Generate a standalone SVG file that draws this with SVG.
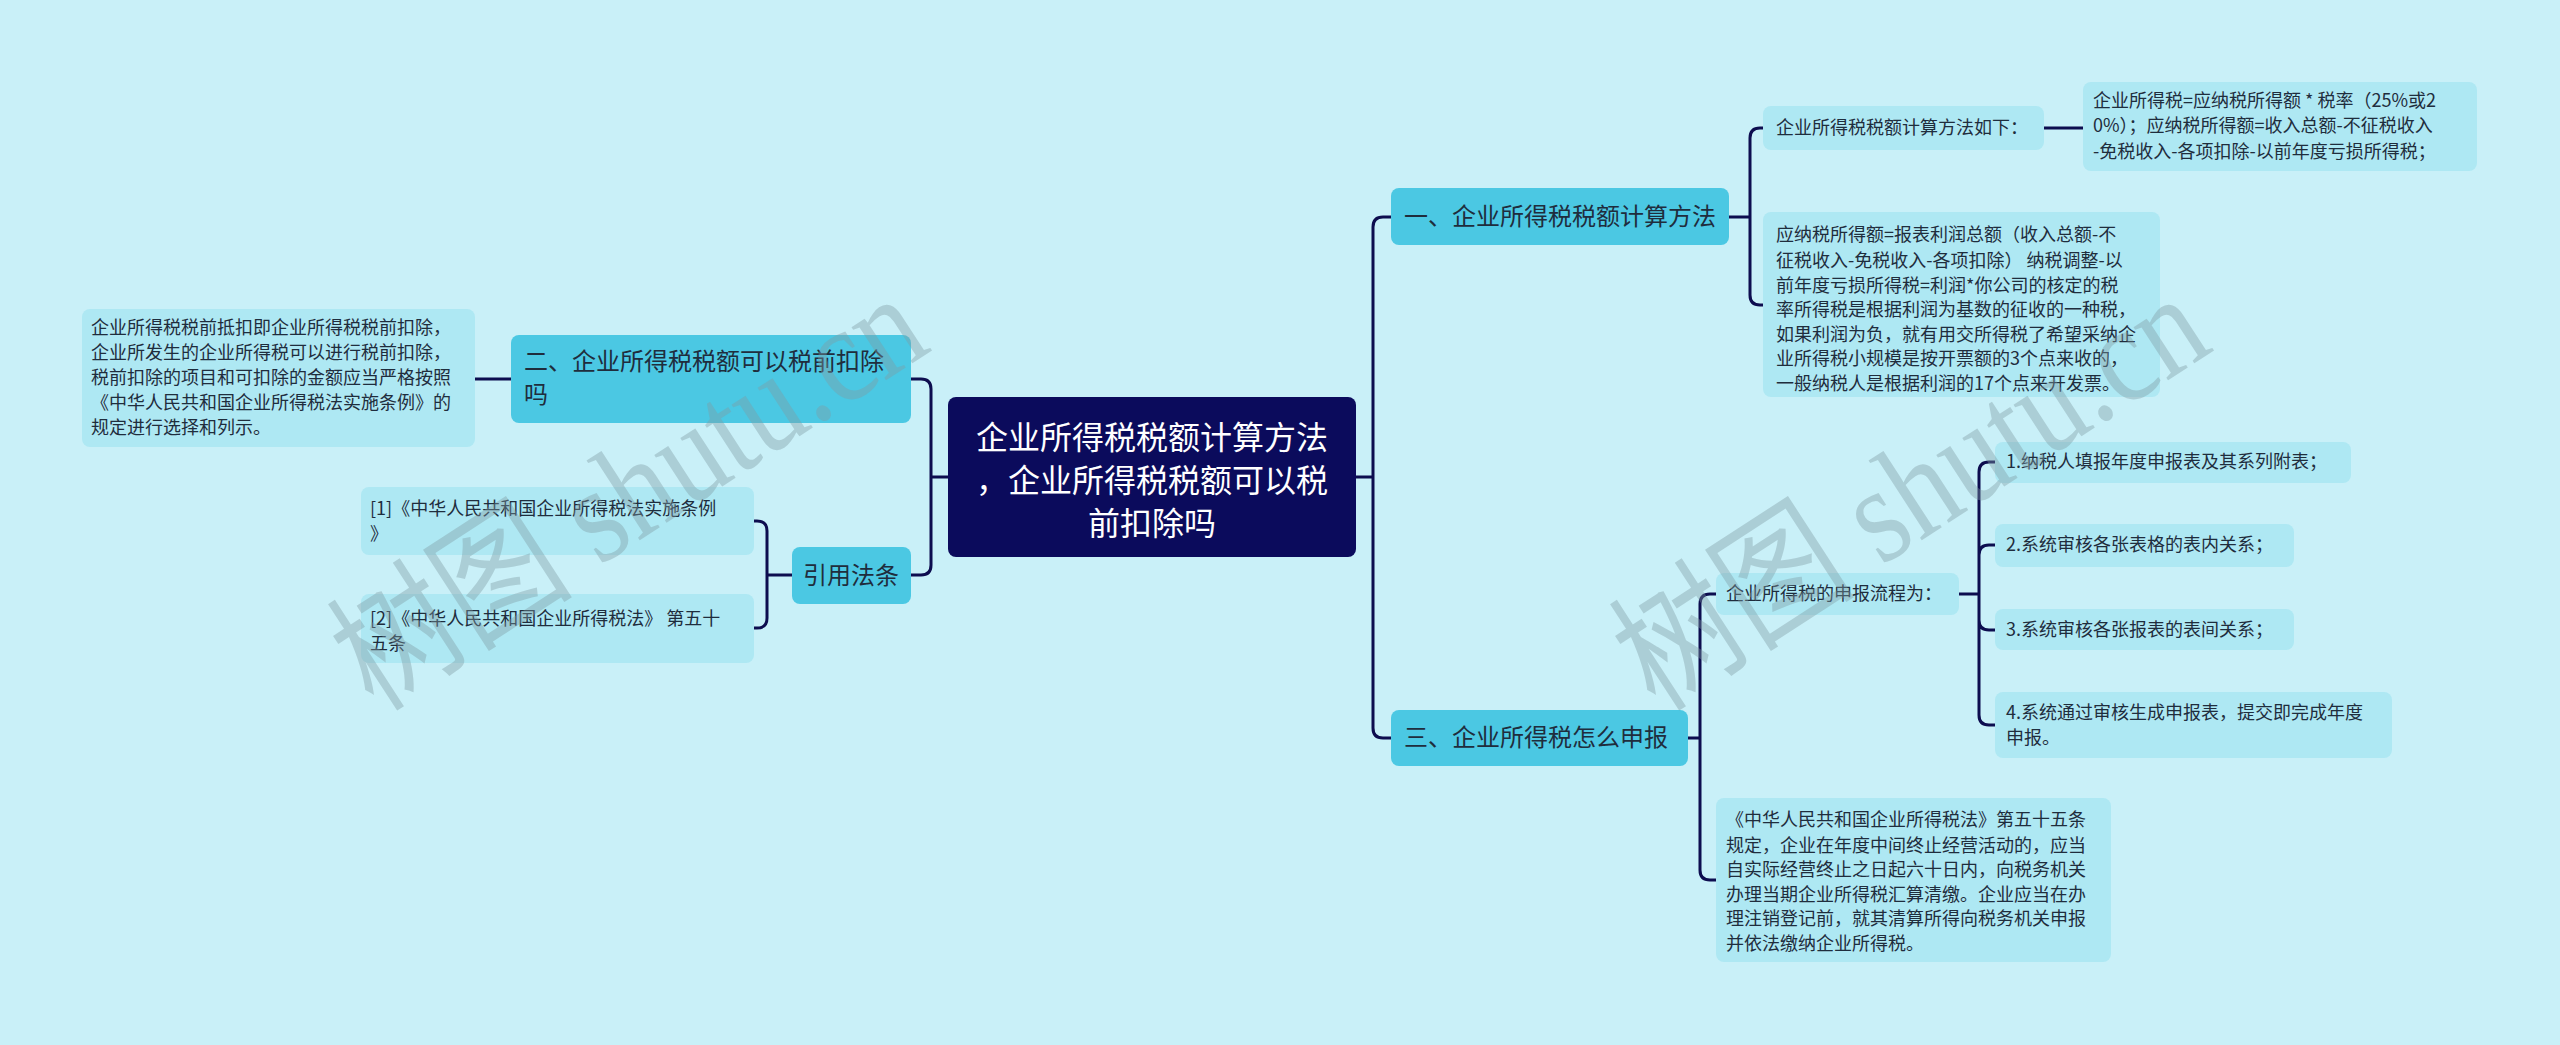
<svg xmlns="http://www.w3.org/2000/svg" width="2560" height="1045" viewBox="0 0 2560 1045">
<style>
.bg{fill:#c9f0f8}
.root{fill:#0b0b5c}
.l1{fill:#4bc8e3}
.leaf{fill:#aee8f3}
.t{font-family:"Noto Sans CJK SC","Noto Sans",sans-serif;fill:#1f2d3d}
.rt{font-family:"Noto Sans CJK SC","Noto Sans",sans-serif;fill:#ffffff;font-size:32px}
.s18{font-size:18px}
.s24{font-size:24px}
.con{fill:none;stroke:#0d0d4f;stroke-width:3;stroke-linecap:round}
.wm{font-family:"Liberation Serif","Noto Sans CJK SC",serif;font-size:138px;fill:#7f9aa3;fill-opacity:0.4}
</style>
<rect class="bg" x="0" y="0" width="2560" height="1045"/>
<g id="connectors">
<path class="con" d="M1355,477 H1373 M1373,477 V227 Q1373,217 1383,217 H1391 M1373,477 V728 Q1373,738 1383,738 H1391"/>
<path class="con" d="M949,477 H931 M931,477 V389 Q931,379 921,379 H911 M931,477 V565 Q931,575 921,575 H911"/>
<path class="con" d="M511,379 H475"/>
<path class="con" d="M792,575 H767 M767,575 V531 Q767,521 757,521 H754 M767,575 V618 Q767,628 757,628 H754"/>
<path class="con" d="M1729,217 H1750 M1750,217 V138 Q1750,128 1760,128 H1763 M1750,217 V295 Q1750,305 1760,305 H1763"/>
<path class="con" d="M2044,128 H2083"/>
<path class="con" d="M1688,738 H1700 M1700,738 V604 Q1700,594 1710,594 H1716 M1700,738 V870 Q1700,880 1710,880 H1716"/>
<path class="con" d="M1959,594 H1979 M1979,594 V472 Q1979,462 1989,462 H1995 M1979,594 V555 Q1979,545 1989,545 H1995 M1979,594 V620 Q1979,630 1989,630 H1995 M1979,594 V715 Q1979,725 1989,725 H1995"/>
</g>
<g id="root">
<rect class="root" x="948" y="397" width="408" height="160" rx="8"/>
<text class="rt" text-anchor="middle" x="1152" y="449">企业所得税税额计算方法</text>
<text class="rt" text-anchor="middle" x="1152" y="492">，企业所得税税额可以税</text>
<text class="rt" text-anchor="middle" x="1152" y="535">前扣除吗</text>
</g>
<g id="n2">
<rect class="l1" x="511" y="335" width="400" height="88" rx="8"/>
<text class="t s24" x="524" y="370">二、企业所得税税额可以税前扣除</text>
<text class="t s24" x="524" y="403">吗</text>
</g>
<g id="n2a">
<rect class="leaf" x="82" y="309" width="393" height="138" rx="8"/>
<text class="t s18" x="91" y="334">企业所得税税前抵扣即企业所得税税前扣除，</text>
<text class="t s18" x="91" y="359">企业所发生的企业所得税可以进行税前扣除，</text>
<text class="t s18" x="91" y="384">税前扣除的项目和可扣除的金额应当严格按照</text>
<text class="t s18" x="91" y="409">《中华人民共和国企业所得税法实施条例》的</text>
<text class="t s18" x="91" y="434">规定进行选择和列示。</text>
</g>
<g id="nref">
<rect class="l1" x="792" y="547" width="119" height="57" rx="8"/>
<text class="t s24" text-anchor="middle" x="851" y="584">引用法条</text>
</g>
<g id="nref1">
<rect class="leaf" x="361" y="487" width="393" height="68" rx="8"/>
<text class="t s18" x="370" y="515">[1]《中华人民共和国企业所得税法实施条例</text>
<text class="t s18" x="370" y="540">》</text>
</g>
<g id="nref2">
<rect class="leaf" x="361" y="594" width="393" height="69" rx="8"/>
<text class="t s18" x="370" y="625">[2]《中华人民共和国企业所得税法》 第五十</text>
<text class="t s18" x="370" y="650">五条</text>
</g>
<g id="n1">
<rect class="l1" x="1391" y="188" width="338" height="57" rx="8"/>
<text class="t s24" x="1404" y="225">一、企业所得税税额计算方法</text>
</g>
<g id="n1a">
<rect class="leaf" x="1763" y="106" width="281" height="44" rx="8"/>
<text class="t s18" x="1776" y="134">企业所得税税额计算方法如下：</text>
</g>
<g id="n1a1">
<rect class="leaf" x="2083" y="82" width="394" height="89" rx="8"/>
<text class="t s18" x="2093" y="107">企业所得税=应纳税所得额 * 税率（25%或2</text>
<text class="t s18" x="2093" y="132">0%）；应纳税所得额=收入总额-不征税收入</text>
<text class="t s18" x="2093" y="158">-免税收入-各项扣除-以前年度亏损所得税；</text>
</g>
<g id="n1b">
<rect class="leaf" x="1763" y="212" width="397" height="185" rx="8"/>
<text class="t s18" x="1776" y="241">应纳税所得额=报表利润总额（收入总额-不</text>
<text class="t s18" x="1776" y="267">征税收入-免税收入-各项扣除） 纳税调整-以</text>
<text class="t s18" x="1776" y="292">前年度亏损所得税=利润*你公司的核定的税</text>
<text class="t s18" x="1776" y="316">率所得税是根据利润为基数的征收的一种税，</text>
<text class="t s18" x="1776" y="341">如果利润为负，就有用交所得税了希望采纳企</text>
<text class="t s18" x="1776" y="365">业所得税小规模是按开票额的3个点来收的，</text>
<text class="t s18" x="1776" y="390">一般纳税人是根据利润的17个点来开发票。</text>
</g>
<g id="n3">
<rect class="l1" x="1391" y="710" width="297" height="56" rx="8"/>
<text class="t s24" x="1404" y="746">三、企业所得税怎么申报</text>
</g>
<g id="n3a">
<rect class="leaf" x="1716" y="573" width="243" height="42" rx="8"/>
<text class="t s18" x="1726" y="600">企业所得税的申报流程为：</text>
</g>
<g id="n3a1">
<rect class="leaf" x="1995" y="442" width="356" height="41" rx="8"/>
<text class="t s18" x="2006" y="468">1.纳税人填报年度申报表及其系列附表；</text>
</g>
<g id="n3a2">
<rect class="leaf" x="1995" y="524" width="299" height="43" rx="8"/>
<text class="t s18" x="2006" y="551">2.系统审核各张表格的表内关系；</text>
</g>
<g id="n3a3">
<rect class="leaf" x="1995" y="609" width="299" height="41" rx="8"/>
<text class="t s18" x="2006" y="636">3.系统审核各张报表的表间关系；</text>
</g>
<g id="n3a4">
<rect class="leaf" x="1995" y="692" width="397" height="66" rx="8"/>
<text class="t s18" x="2006" y="719">4.系统通过审核生成申报表，提交即完成年度</text>
<text class="t s18" x="2006" y="744">申报。</text>
</g>
<g id="n3b">
<rect class="leaf" x="1716" y="798" width="395" height="164" rx="8"/>
<text class="t s18" x="1726" y="826">《中华人民共和国企业所得税法》第五十五条</text>
<text class="t s18" x="1726" y="852">规定，企业在年度中间终止经营活动的，应当</text>
<text class="t s18" x="1726" y="876">自实际经营终止之日起六十日内，向税务机关</text>
<text class="t s18" x="1726" y="901">办理当期企业所得税汇算清缴。企业应当在办</text>
<text class="t s18" x="1726" y="925">理注销登记前，就其清算所得向税务机关申报</text>
<text class="t s18" x="1726" y="950">并依法缴纳企业所得税。</text>
</g>
<g id="watermark">
<text class="wm" transform="translate(375,712) rotate(-33) scale(0.86,1)">树图 shutu.cn</text>
<text class="wm" transform="translate(1657,712) rotate(-33) scale(0.86,1)">树图 shutu.cn</text>
</g>
</svg>
